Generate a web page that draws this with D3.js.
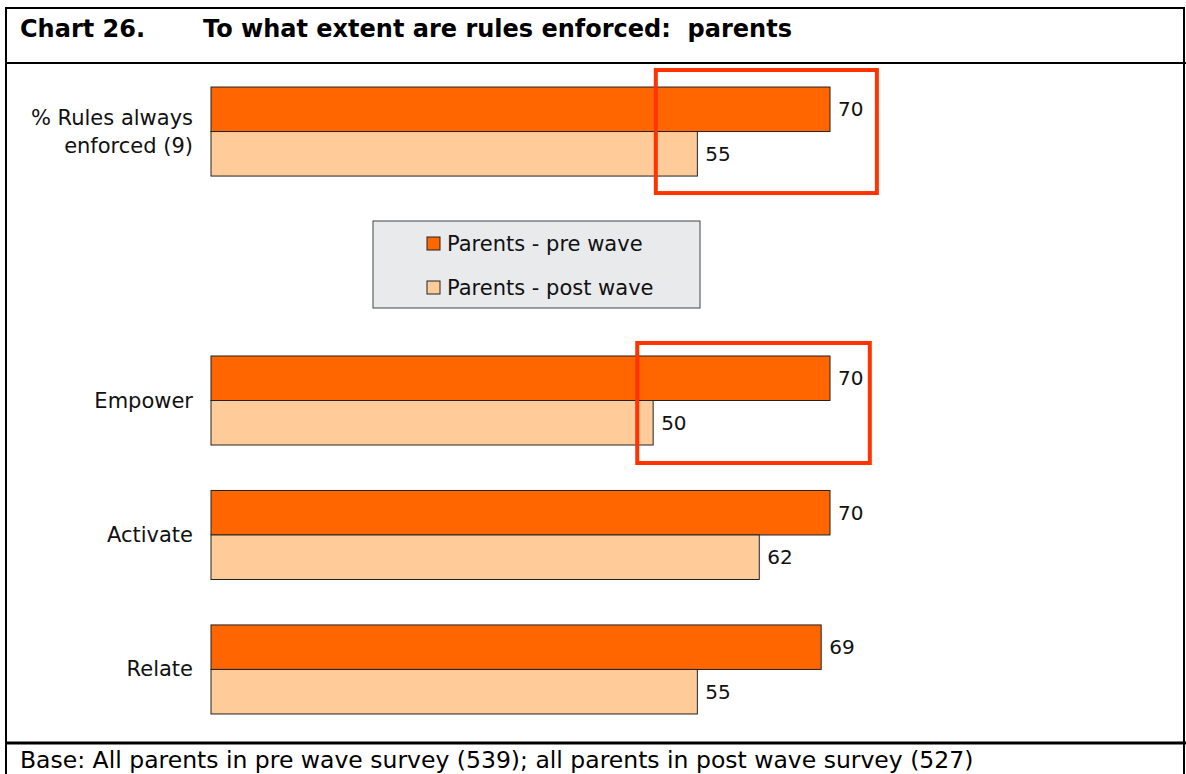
<!DOCTYPE html>
<html>
<head>
<meta charset="utf-8">
<script src="https://cdn.jsdelivr.net/npm/d3@7"></script>
<style>
  body { margin: 0; background: #fff; }
  svg { display: block; font-family: Tahoma, "DejaVu Sans", sans-serif; }
</style>
</head>
<body>
<div id="container"></div>
<script>
/* DATA */
const categories = ["% Rules always|enforced (9)", "", "Empower", "Activate", "Relate"];
const seriesNames = ["Parents - pre wave", "Parents - post wave"];
const preWave = [70, null, 70, 70, 69];
const postWave = [55, null, 50, 62, 55];
const highlightCats = ["% Rules always|enforced (9)", "Empower"];
const highlightX = [[50.3, 75.3], [48.2, 74.5]];

/* CONSTANTS */
const width = 1186, height = 774;
const colors = ["#ff6600", "#ffcc99"];

const svg = d3.select("#container").append("svg")
  .attr("width", width)
  .attr("height", height);

// frame
svg.append("rect").attr("x", 6).attr("y", 8).attr("width", 1178).attr("height", 770)
  .attr("fill", "none").attr("stroke", "#000").attr("stroke-width", 2);
svg.append("line").attr("x1", 6).attr("x2", 1186).attr("y1", 63).attr("y2", 63)
  .attr("stroke", "#000").attr("stroke-width", 2);
svg.append("line").attr("x1", 6).attr("x2", 1186).attr("y1", 743).attr("y2", 743)
  .attr("stroke", "#000").attr("stroke-width", 3);

// title
svg.append("text").attr("x", 20).attr("y", 37).attr("font-size", 24).attr("font-weight", "bold")
  .text("Chart 26.");
svg.append("text").attr("x", 203).attr("y", 37).attr("font-size", 24).attr("font-weight", "bold")
  .style("white-space", "pre")
  .text("To what extent are rules enforced:  parents");

// footer
svg.append("text").attr("x", 20).attr("y", 768).attr("font-size", 23.5)
  .text("Base: All parents in pre wave survey (539); all parents in post wave survey (527)");

/* SCALES */
const xScale = d3.scaleLinear().domain([0, 100]).range([211, 211 + 884.3]);
const yScale = d3.scaleBand().domain(categories).range([64.3, 736.7])
  .paddingInner(0.338).paddingOuter(0.169);
const sub = d3.scaleBand().domain([0, 1]).range([0, yScale.bandwidth()]);

const rows = categories.map((c, i) => ({ cat: c, vals: [preWave[i], postWave[i]] }))
  .filter(d => d.cat !== "");

// category labels
rows.forEach(d => {
  const lines = d.cat.split("|");
  const cy = yScale(d.cat) + yScale.bandwidth() / 2;
  const t = svg.append("text").attr("text-anchor", "end").attr("font-size", 21).attr("fill", "#111");
  lines.forEach((l, j) => {
    t.append("tspan").attr("x", 193)
      .attr("y", cy + 7 + (j - (lines.length - 1) / 2) * 28)
      .text(l);
  });
});

// bars
const g = svg.selectAll(".grp").data(rows).join("g")
  .attr("class", "grp")
  .attr("transform", d => `translate(0,${yScale(d.cat)})`);

g.selectAll("rect").data(d => d.vals.map((v, k) => ({ v, k }))).join("rect")
  .attr("x", xScale(0))
  .attr("y", d => sub(d.k))
  .attr("width", d => xScale(d.v) - xScale(0))
  .attr("height", sub.bandwidth())
  .attr("fill", d => colors[d.k])
  .attr("stroke", "#222")
  .attr("stroke-width", 1);

g.selectAll("text").data(d => d.vals.map((v, k) => ({ v, k }))).join("text")
  .attr("x", d => xScale(d.v) + 8)
  .attr("y", d => sub(d.k) + sub.bandwidth() / 2 + 7)
  .attr("font-size", 20)
  .attr("fill", "#111")
  .text(d => d.v);

// highlight boxes
highlightCats.forEach((c, i) => {
  svg.append("rect")
    .attr("x", xScale(highlightX[i][0]))
    .attr("y", yScale(c) - (i === 0 ? 17 : 13))
    .attr("width", xScale(highlightX[i][1]) - xScale(highlightX[i][0]))
    .attr("height", yScale.bandwidth() + (i === 0 ? 34 : 31))
    .attr("fill", "none")
    .attr("stroke", "#ff3300")
    .attr("stroke-width", 4);
});

// legend
const lg = svg.append("g").attr("transform", "translate(373,221)");
lg.append("rect").attr("width", 327).attr("height", 87)
  .attr("fill", "#e8eaec").attr("stroke", "#444").attr("stroke-width", 1);
seriesNames.forEach((s, i) => {
  lg.append("rect").attr("x", 54).attr("y", 16 + i * 44).attr("width", 13).attr("height", 13)
    .attr("fill", colors[i]).attr("stroke", "#222");
  lg.append("text").attr("x", 74).attr("y", 30 + i * 44).attr("font-size", 21).attr("fill", "#111")
    .text(s);
});
</script>
</body>
</html>
